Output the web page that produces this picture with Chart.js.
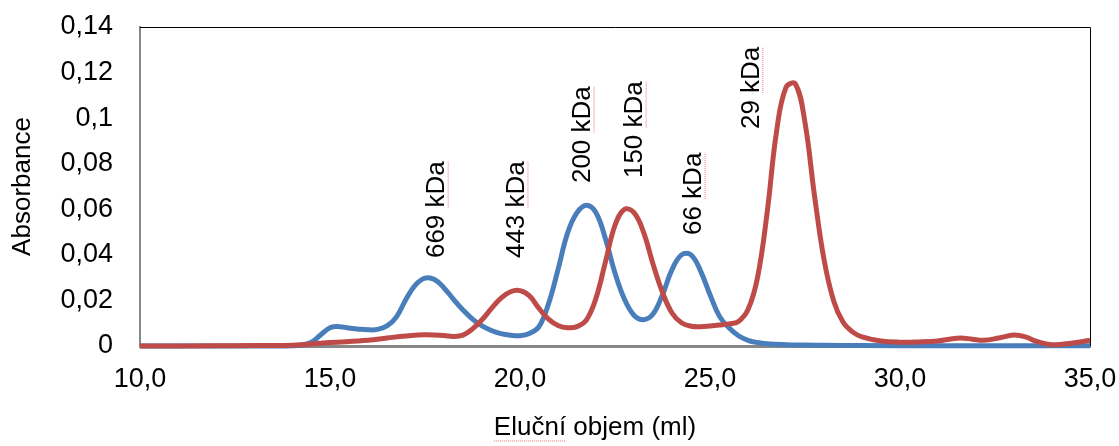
<!DOCTYPE html>
<html>
<head>
<meta charset="utf-8">
<script src="https://cdn.jsdelivr.net/npm/chart.js@4.4.1/dist/chart.umd.min.js"></script>
<style>
  html, body { margin: 0; padding: 0; background: #fff; }
  #wrap { width: 1119px; height: 446px; }
</style>
</head>
<body>
<div id="wrap"><canvas id="chart" width="1119" height="446"></canvas></div>
<script>
// blue trace (elution volume ml, absorbance)
const blueX = [10, 11, 12, 13, 13.5, 14, 14.25, 14.5, 14.75, 15, 15.25, 15.5, 15.75, 16, 16.25, 16.5, 16.75, 17, 17.25, 17.5, 17.75,
  18, 18.25, 18.5, 18.75, 19, 19.25, 19.5, 19.75, 20, 20.25, 20.5, 20.75, 21, 21.25, 21.5, 21.75, 22, 22.25, 22.5, 22.75,
  23, 23.25, 23.5, 23.75, 24, 24.25, 24.5, 24.75, 25, 25.25, 25.5, 25.75, 26, 26.25, 26.5, 27, 27.5, 28, 29, 31, 33, 35];
const blueY = [0, 0, 0, 0, 0, 0.0001, 0.0004, 0.0015, 0.0048, 0.008, 0.0085, 0.0079, 0.0074, 0.0071, 0.0073, 0.0088, 0.0128, 0.0205, 0.0268, 0.0298, 0.0292,
  0.0255, 0.0205, 0.0158, 0.0118, 0.0088, 0.0068, 0.0054, 0.0047, 0.0045, 0.0055, 0.0085, 0.0185, 0.0335, 0.0495, 0.0585, 0.0618, 0.0585, 0.047, 0.032, 0.0205,
  0.0135, 0.0115, 0.014, 0.0225, 0.0335, 0.04, 0.04, 0.033, 0.0225, 0.013, 0.008, 0.0045, 0.0025, 0.0015, 0.001, 0.0006, 0.0004, 0.0003, 0.0002, 0.0001, 0.0001, 0.0001];

// red trace
const redX = [10, 12, 13, 14, 15, 16, 16.5, 17, 17.5, 18, 18.25, 18.5, 18.75, 19, 19.25, 19.5, 19.75, 20, 20.25, 20.5, 20.75,
  21, 21.25, 21.5, 21.75, 22, 22.25, 22.5, 22.75, 23, 23.25, 23.5, 23.75, 24, 24.25, 24.5, 24.75, 25, 25.25, 25.5, 25.75,
  26, 26.25, 26.5, 26.75, 27, 27.25, 27.5, 27.75, 28, 28.25, 28.5, 28.75, 29, 29.5, 30, 30.5, 31, 31.3, 31.6, 31.9,
  32.2, 32.6, 33, 33.3, 33.6, 34, 34.5, 35];
const redY = [0, 0.0001, 0.0002, 0.0003, 0.0015, 0.0025, 0.0035, 0.0044, 0.0049, 0.0046, 0.0042, 0.0048, 0.0075, 0.0115, 0.0165, 0.021, 0.0238, 0.0243, 0.022, 0.0165, 0.0118,
  0.009, 0.008, 0.0085, 0.0115, 0.021, 0.037, 0.053, 0.06, 0.0585, 0.05, 0.036, 0.0235, 0.0145, 0.0102, 0.0087, 0.0085, 0.0088, 0.0092, 0.0097, 0.0108,
  0.016, 0.03, 0.058, 0.094, 0.1135, 0.115, 0.098, 0.066, 0.038, 0.02, 0.0105, 0.0062, 0.004, 0.0022, 0.0017, 0.0018, 0.0022, 0.003, 0.0035, 0.003,
  0.0025, 0.0035, 0.0048, 0.004, 0.002, 0.0006, 0.0012, 0.0025];

// peak labels (anchored at the start of the rotated text)
const annLabels = ['669 kDa', '443 kDa', '200 kDa', '150 kDa', '66 kDa', '29 kDa'];
const annX = [17.82, 19.92, 21.66, 23.03, 24.58, 26.1];
const annY = [0.0386, 0.0386, 0.0715, 0.0737, 0.0487, 0.0952];

const xTitle = 'Eluční objem (ml)';
const yTitle = 'Absorbance';

const FONT = "'Liberation Sans', Arial, sans-serif";

function pts(xs, ys) {
  return xs.map((x, i) => ({ x: x, y: ys[i] }));
}

function squiggle(ctx, x0, x1, y) {
  ctx.save();
  ctx.strokeStyle = '#f07070';
  ctx.lineWidth = 1;
  ctx.setLineDash([1, 1]);
  ctx.beginPath();
  ctx.moveTo(x0, y);
  ctx.lineTo(x1, y);
  ctx.stroke();
  ctx.restore();
}

const extras = {
  id: 'extras',
  beforeDatasetsDraw(chart) {
    const { ctx, chartArea: a } = chart;
    ctx.save();
    ctx.strokeStyle = '#000';
    ctx.lineWidth = 1;
    ctx.beginPath();
    ctx.moveTo(a.left, a.top + 0.5);
    ctx.lineTo(a.right + 0.5, a.top + 0.5);
    ctx.lineTo(a.right + 0.5, a.bottom);
    ctx.stroke();
    ctx.restore();
  },
  afterDatasetsDraw(chart) {
    const { ctx } = chart;
    const xs = chart.scales.x, ys = chart.scales.y;
    ctx.save();
    ctx.font = '26px ' + FONT;
    ctx.fillStyle = '#000';
    ctx.textAlign = 'left';
    ctx.textBaseline = 'middle';
    annLabels.forEach((lab, i) => {
      const px = xs.getPixelForValue(annX[i]);
      const py = ys.getPixelForValue(annY[i]);
      ctx.save();
      ctx.translate(px, py);
      ctx.rotate(-Math.PI / 2);
      ctx.fillText(lab, 0, 0);
      const pre = ctx.measureText(lab.replace('kDa', '')).width;
      const full = ctx.measureText(lab).width;
      squiggle(ctx, pre, full, 11);
      ctx.restore();
    });
    // x axis title
    ctx.textAlign = 'center';
    const tx = 595, ty = 428;
    ctx.fillText(xTitle, tx, ty);
    const w = ctx.measureText(xTitle).width;
    const w1 = ctx.measureText('Eluční').width;
    squiggle(ctx, tx - w / 2, tx - w / 2 + w1, ty + 13);
    ctx.restore();
  }
};

new Chart(document.getElementById('chart'), {
  type: 'line',
  data: {
    datasets: [
      {
        label: 'blue',
        data: pts(blueX, blueY),
        borderColor: '#4a7ebb',
        borderWidth: 5,
        pointRadius: 0,
        tension: 0.4,
        clip: false,
        order: 1,
      },
      {
        label: 'red',
        data: pts(redX, redY),
        borderColor: '#be4b48',
        borderWidth: 5,
        pointRadius: 0,
        tension: 0.4,
        clip: false,
        order: 0,
      },
    ],
  },
  options: {
    responsive: false,
    animation: false,
    events: [],
    layout: { padding: { top: 27, right: 29, left: 0, bottom: 0 } },
    plugins: {
      legend: { display: false },
      tooltip: { enabled: false },
    },
    scales: {
      x: {
        type: 'linear',
        min: 10,
        max: 35,
        grid: { display: false, drawTicks: false },
        border: { display: true, color: '#878787', width: 3 },
        ticks: {
          stepSize: 5,
          padding: 17,
          color: '#000',
          font: { family: FONT, size: 27 },
          callback: (v) => v.toFixed(1).replace('.', ','),
        },
        afterFit(scale) {
          scale.height = 100;
          scale.paddingLeft = 0;
          scale.paddingRight = 0;
        },
      },
      y: {
        min: 0,
        max: 0.14,
        grid: { display: false, drawTicks: false },
        border: { display: true, color: '#878787', width: 2 },
        ticks: {
          stepSize: 0.02,
          padding: 27,
          color: '#000',
          font: { family: FONT, size: 27 },
          callback: (v) => String(Math.round(v * 100) / 100).replace('.', ','),
        },
        title: {
          display: true,
          text: yTitle,
          color: '#000',
          font: { family: FONT, size: 26 },
          padding: { top: 7, bottom: 0 },
        },
        afterFit(scale) {
          scale.width = 140;
          scale.paddingTop = 0;
          scale.paddingBottom = 0;
        },
      },
    },
  },
  plugins: [extras],
});
</script>
</body>
</html>
